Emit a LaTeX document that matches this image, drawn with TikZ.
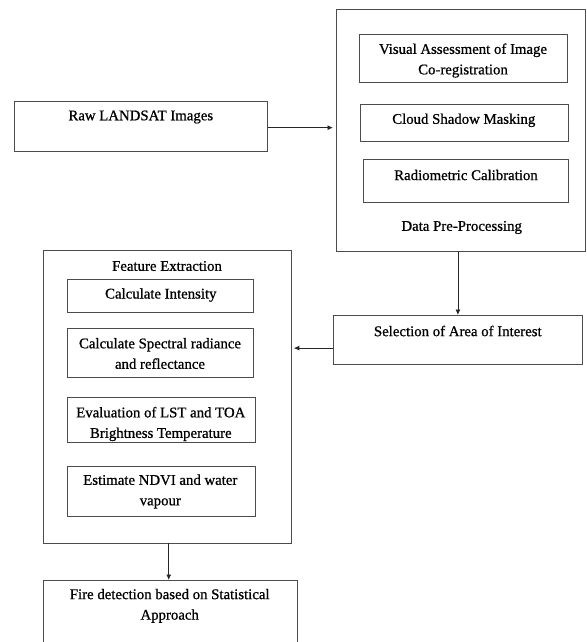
\documentclass[tikz,border=0pt]{standalone}
\usepackage{fontspec}
\setmainfont{Liberation Serif}[FakeBold=0.8]
\usetikzlibrary{arrows.meta,calc}
\begin{document}
\begin{tikzpicture}[x=1pt,y=-1pt,
 box/.style={draw=black!70, line width=0.8pt, rectangle, inner sep=0pt, anchor=north west},
 txt/.style={font=\fontsize{14.8}{20.5}\selectfont, align=center, inner sep=0pt, text=black},
 arr/.style={draw=black!85, line width=0.8pt, -{Latex[length=5.5pt,width=5pt]}}]
\useasboundingbox (0,0) rectangle (586,642);
% boxes
\node[box, minimum width=252.4pt, minimum height=50.5pt] (raw) at (14.3,100.5) {};
\node[box, minimum width=249pt, minimum height=241.7pt] (dpp) at (336,9) {};
\node[box, minimum width=207.4pt, minimum height=47.7pt] (vis) at (359.3,34) {};
\node[box, minimum width=207.7pt, minimum height=36.7pt] (cloud) at (360,104) {};
\node[box, minimum width=204.4pt, minimum height=42.4pt] (radio) at (363.3,159.3) {};
\node[box, minimum width=248.4pt, minimum height=49pt] (sel) at (333.3,315) {};
\node[box, minimum width=248.3pt, minimum height=292.5pt] (feat) at (42.7,250) {};
\node[box, minimum width=186pt, minimum height=32.7pt] (ci) at (67.3,279) {};
\node[box, minimum width=186pt, minimum height=48.4pt] (spec) at (67.3,328.3) {};
\node[box, minimum width=187.7pt, minimum height=45pt] (eval) at (67.3,397.3) {};
\node[box, minimum width=187.7pt, minimum height=50pt] (est) at (67.3,465.7) {};
\node[box, minimum width=254pt, minimum height=64pt] (fire) at (42.7,580) {};
% texts
\node[txt] (rawt) at (140.8,117) {Raw LANDSAT Images};
\node[txt] (dppt) at (461.7,227.5) {Data Pre-Processing};
\node[txt] (vist) at (463,60.5) {Visual Assessment of Image\\Co-registration};
\node[txt] (cloudt) at (463.8,120.3) {Cloud Shadow Masking};
\node[txt] (radiot) at (466,175) {Radiometric Calibration};
\node[txt] (selt) at (457.8,331) {Selection of Area of Interest};
\node[txt] (featt) at (167,266) {Feature Extraction};
\node[txt] (cit) at (160.8,295) {Calculate Intensity};
\node[txt] (spect) at (160,353.5) {Calculate Spectral radiance\\and reflectance};
\node[txt] (evalt) at (160.8,424) {Evaluation of LST and TOA\\Brightness Temperature};
\node[txt] (estt) at (160.3,491.5) {Estimate NDVI and water\\vapour};
\node[txt] (firet) at (169.7,605.8) {Fire detection based on Statistical\\Approach};
% connectors
\draw[arr, shorten >=3pt] ([yshift=-1.5pt]raw.east) -- ([yshift=-1.5pt]raw.east -| dpp.west);
\draw[arr] (sel.north |- dpp.south) -- (sel.north);
\draw[arr, shorten >=2pt] ([yshift=-8.2pt]sel.west) -- ([yshift=-8.2pt]sel.west -| feat.east);
\draw[arr] ([xshift=1.5pt]feat.south) -- ([xshift=1.5pt]feat.south |- fire.north);
\end{tikzpicture}
\end{document}
